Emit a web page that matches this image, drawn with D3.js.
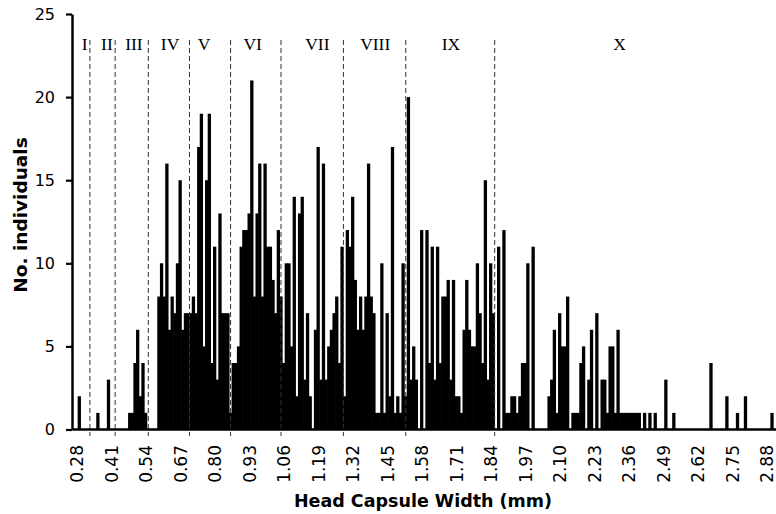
<!DOCTYPE html>
<html><head><meta charset="utf-8">
<script src="https://cdn.jsdelivr.net/npm/d3@7"></script>
<style>html,body{margin:0;padding:0;background:#fff}</style>
</head><body><svg id="c" width="776" height="514"></svg>
<script>
// Head capsule width classes (mm), 0.01 mm bins starting at 0.28
const binStart = 0.28;
const binWidth = 0.01;
const counts = [
  0,2,0,0,0,0,0,0,1,0,
  0,0,3,0,0,0,0,0,0,0,
  1,1,4,6,2,4,1,0,0,0,
  0,8,10,8,16,6,8,7,10,15,
  6,7,7,7,8,7,17,19,5,15,
  19,4,11,3,13,7,7,7,1,4,
  4,5,11,12,12,13,21,8,13,16,
  8,16,11,11,9,7,12,8,4,10,
  10,5,14,2,13,14,3,7,2,0,
  6,17,3,16,3,5,6,7,8,4,
  11,2,12,11,14,9,6,8,6,8,
  16,8,7,1,1,10,1,7,2,17,
  1,2,1,10,2,20,3,5,3,0,
  12,0,12,4,11,3,11,4,8,8,
  9,3,9,2,2,1,6,9,6,5,
  5,10,7,4,15,3,10,7,0,11,
  0,12,1,1,2,2,1,2,4,4,
  10,0,11,0,0,0,0,0,2,3,
  6,1,7,5,5,8,0,1,1,1,
  4,5,0,3,6,0,7,0,3,3,
  1,5,5,1,6,1,1,1,1,1,
  1,1,1,0,1,0,1,0,1,0,
  0,0,3,0,0,1,0,0,0,0,
  0,0,0,0,0,0,0,0,0,4,
  0,0,0,0,0,2,0,0,0,1,
  0,0,2,0,0,0,0,0,0,0,
  0,0,1
];
const xTickLabels = ["0.28","0.41","0.54","0.67","0.80","0.93","1.06","1.19","1.32","1.45","1.58","1.71","1.84","1.97","2.10","2.23","2.36","2.49","2.62","2.75","2.88"];
const yTicks = [0,5,10,15,20,25];
const stageBounds = [0.33,0.425,0.55,0.705,0.86,1.05,1.285,1.52,1.855];
const stageNames = ["I","II","III","IV","V","VI","VII","VIII","IX","X"];
const stageLabelPos = [0.31,0.394,0.496,0.632,0.76,0.943,1.187,1.405,1.69,2.326];

const svg = d3.select("#c");
const x = d3.scaleLinear().domain([0.2625, 2.915]).range([72, 776]);
const y = d3.scaleLinear().domain([0, 25]).range([429.5, 14]);

const bars = counts.map((c, i) => ({v: +(binStart + binWidth * i).toFixed(2), c}));
const bw = x(binStart + binWidth) - x(binStart) + 0.65;

svg.append("g").selectAll("rect").data(bars.filter(d => d.c > 0)).join("rect")
  .attr("x", d => x(d.v) - bw / 2)
  .attr("width", bw)
  .attr("y", d => y(d.c))
  .attr("height", d => y(0) - y(d.c))
  .attr("fill", "#000");

// stage dividers
svg.append("g").selectAll("line").data(stageBounds).join("line")
  .attr("x1", d => x(d)).attr("x2", d => x(d))
  .attr("y1", 40).attr("y2", 436)
  .attr("stroke", "#333").attr("stroke-width", 1)
  .attr("stroke-dasharray", "5,3");

svg.append("g").selectAll("text").data(stageNames).join("text")
  .attr("x", (d, i) => x(stageLabelPos[i]))
  .attr("y", 50)
  .attr("text-anchor", "middle")
  .attr("font-family", "'Liberation Serif', 'Times New Roman', serif")
  .attr("font-size", "17.5px")
  .attr("fill", "#000")
  .text(d => d);

// y axis
const yAxis = svg.append("g").attr("transform", "translate(72,0)")
  .call(d3.axisLeft(y).tickValues(yTicks).tickSize(6).tickSizeOuter(0).tickPadding(11));
yAxis.select(".domain").attr("stroke", "#000").attr("stroke-width", 2.5);
yAxis.selectAll(".tick line").attr("stroke", "#000").attr("stroke-width", 2.2);
yAxis.selectAll(".tick text").attr("font-family", "'DejaVu Sans', sans-serif")
  .attr("font-size", "16px").attr("fill", "#000");

// x axis
const xAxis = svg.append("g").attr("transform", "translate(0,429)")
  .call(d3.axisBottom(x).tickValues(xTickLabels.map(Number)).tickSize(0).tickSizeOuter(0)
    .tickFormat((d, i) => xTickLabels[i]));
xAxis.select(".domain").attr("stroke", "#000").attr("stroke-width", 2.4);
xAxis.selectAll(".tick text")
  .attr("font-family", "'DejaVu Sans', sans-serif")
  .attr("font-size", "17px").attr("fill", "#000")
  .attr("text-anchor", "end")
  .attr("transform", "rotate(-90)")
  .attr("x", -16).attr("y", 0).attr("dy", "0.35em");

// titles
svg.append("text")
  .attr("x", 423).attr("y", 506.5)
  .attr("text-anchor", "middle")
  .attr("font-family", "'DejaVu Sans', sans-serif")
  .attr("font-weight", "bold").attr("font-size", "17.5px")
  .text("Head Capsule Width (mm)");

svg.append("text")
  .attr("transform", "translate(26.5,215) rotate(-90)")
  .attr("text-anchor", "middle")
  .attr("font-family", "'DejaVu Sans', sans-serif")
  .attr("font-weight", "bold").attr("font-size", "18.5px")
  .text("No. individuals");
</script>
</body></html>
